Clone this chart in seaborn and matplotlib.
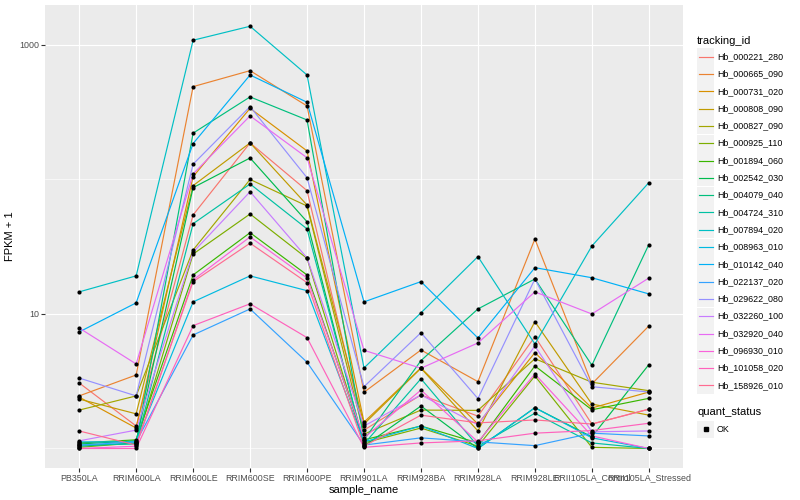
import numpy as np
import pandas as pd
import matplotlib
matplotlib.use("Agg")
import matplotlib.pyplot as plt
import seaborn as sns
from matplotlib.patches import Rectangle
from matplotlib.lines import Line2D
from matplotlib.ticker import FixedLocator, NullFormatter

plt.rcParams['font.family'] = ['Liberation Sans', 'DejaVu Sans']

# samples on the x axis
samples = ['PB350LA', 'RRIM600LA', 'RRIM600LE', 'RRIM600SE', 'RRIM600PE',
           'RRIM901LA', 'RRIM928BA', 'RRIM928LA', 'RRIM928LE',
           'RRII105LA_Control', 'RRII105LA_Stressed']

# FPKM + 1 for each gene
hb_000221_280 = [3.07, 1.47, 54.5, 187, 82.6, 1.37, 2.50, 1.74, 6.78, 1.52, 1.96]
hb_000665_090 = [2.46, 3.52, 490, 644, 352, 2.62, 5.40, 3.14, 36.1, 3.02, 8.14]
hb_000731_020 = [2.41, 1.42, 105, 338, 163, 1.57, 3.97, 1.52, 5.16, 2.00, 2.63]
hb_000808_090 = [2.33, 1.81, 90, 187, 64.6, 1.52, 3.95, 1.35, 8.77, 2.14, 1.77]
hb_000827_090 = [1.93, 2.46, 29.9, 100, 63.5, 1.28, 1.93, 1.92, 4.65, 3.11, 2.69]
hb_000925_110 = [1.02, 1.10, 27.9, 55.4, 25.9, 1.10, 1.42, 1.04, 3.46, 1.02, 1.0]
hb_001894_060 = [1.10, 1.16, 19.5, 40.2, 19.5, 1.16, 1.47, 1.10, 4.11, 1.94, 2.36]
hb_002542_030 = [1.08, 1.14, 87, 144.5, 48.5, 1.04, 2.07, 1.0, 2.01, 1.22, 4.20]
hb_004079_040 = [1.04, 1.10, 221, 411, 277, 1.16, 4.50, 10.9, 18.2, 4.16, 32.8]
hb_004724_310 = [1.06, 1.08, 46.9, 92.6, 42.9, 1.08, 3.30, 1.04, 1.83, 1.10, 1.0]
hb_007894_020 = [14.6, 19.2, 1084, 1377, 598, 3.97, 10.2, 26.7, 5.98, 32.0, 94.7]
hb_008963_010 = [1.12, 1.12, 12.3, 19.2, 14.9, 1.12, 1.47, 1.0, 2.01, 1.20, 1.0]
hb_010142_040 = [7.35, 12.1, 185, 598, 375, 12.3, 17.4, 6.63, 22.1, 18.6, 14.1]
hb_022137_020 = [1.06, 1.12, 6.98, 10.9, 4.38, 1.06, 1.20, 1.12, 1.05, 1.30, 1.24]
hb_029622_080 = [3.34, 2.46, 130, 348, 103, 2.88, 7.26, 2.35, 18.2, 2.88, 2.63]
hb_032260_100 = [1.14, 1.37, 28.8, 81.1, 26.1, 1.47, 2.50, 1.50, 5.78, 1.33, 1.35]
hb_032920_040 = [7.87, 4.25, 110, 297, 145, 5.37, 3.95, 6.09, 14.6, 10.0, 18.5]
hb_096930_010 = [1.0, 1.04, 17.9, 37.4, 18.5, 1.20, 2.72, 1.12, 3.58, 1.24, 1.0]
hb_101058_020 = [1.0, 1.0, 8.19, 11.9, 6.67, 1.02, 1.10, 1.14, 1.30, 1.36, 1.54]
hb_158926_010 = [1.35, 1.06, 17.4, 33.6, 17.1, 1.04, 1.77, 1.55, 1.63, 1.52, 1.96]

tracking_ids = ['Hb_000221_280', 'Hb_000665_090', 'Hb_000731_020', 'Hb_000808_090',
                'Hb_000827_090', 'Hb_000925_110', 'Hb_001894_060', 'Hb_002542_030',
                'Hb_004079_040', 'Hb_004724_310', 'Hb_007894_020', 'Hb_008963_010',
                'Hb_010142_040', 'Hb_022137_020', 'Hb_029622_080', 'Hb_032260_100',
                'Hb_032920_040', 'Hb_096930_010', 'Hb_101058_020', 'Hb_158926_010']
series = [hb_000221_280, hb_000665_090, hb_000731_020, hb_000808_090, hb_000827_090,
          hb_000925_110, hb_001894_060, hb_002542_030, hb_004079_040, hb_004724_310,
          hb_007894_020, hb_008963_010, hb_010142_040, hb_022137_020, hb_029622_080,
          hb_032260_100, hb_032920_040, hb_096930_010, hb_101058_020, hb_158926_010]

# ggplot default hue palette for 20 levels
colors = ['#F8766D', '#EA8331', '#D89000', '#C09B00', '#A3A500', '#7CAE00', '#39B600',
          '#00BB4E', '#00BF7D', '#00C1A3', '#00BFC4', '#00BAE0', '#00B0F6', '#35A2FF',
          '#9590FF', '#C77CFF', '#E76BF3', '#FA62DB', '#FF62BC', '#FF6C91']

rows = []
for tid, vals in zip(tracking_ids, series):
    for s, v in zip(samples, vals):
        rows.append((tid, s, v, 'OK'))
df = pd.DataFrame(rows, columns=['tracking_id', 'sample_name', 'fpkm1', 'quant_status'])

fig = plt.figure(figsize=(8, 5), dpi=100)
ax = fig.add_axes([45/800, 1-468/500, (683-45)/800, (468-5)/500])
ax.set_facecolor('#EBEBEB')
for sp in ax.spines.values():
    sp.set_visible(False)

sns.lineplot(data=df, x='sample_name', y='fpkm1', hue='tracking_id',
             palette=colors, hue_order=tracking_ids, sort=False,
             lw=0.85, legend=False, ax=ax, zorder=3)
sns.scatterplot(data=df, x='sample_name', y='fpkm1', color='black', s=9,
                linewidth=0, legend=False, ax=ax, zorder=4)

ax.set_yscale('log')
ax.set_ylim(10**-0.145, 10**3.297)
ax.set_xlim(-0.6, 10.6)
ax.yaxis.set_major_locator(FixedLocator([10, 1000]))
ax.yaxis.set_minor_locator(FixedLocator([1, 100]))
ax.yaxis.set_major_formatter(matplotlib.ticker.FixedFormatter(['10', '1000']))
ax.yaxis.set_minor_formatter(NullFormatter())
ax.set_xticks(range(len(samples)))
ax.set_xticklabels(samples)
ax.set_axisbelow(True)
ax.grid(which='major', color='white', lw=0.85)
ax.grid(which='minor', axis='y', color='white', lw=0.45)
ax.tick_params(which='major', length=2.6, width=0.8, color='#333333',
               labelsize=6.4, labelcolor='#4D4D4D', pad=1.5)
ax.tick_params(which='minor', length=0)

ax.set_xlabel('sample_name', fontsize=8, color='black', labelpad=2)
ax.set_ylabel('FPKM + 1', fontsize=8, color='black', labelpad=3)

# legends, drawn like ggplot guides
def fx(px):
    return px / 800

def fy(py):
    return 1 - py / 500

fig.text(fx(697), fy(40.5), 'tracking_id', fontsize=8, va='center', ha='left')
for i, (tid, c) in enumerate(zip(tracking_ids, colors)):
    yc = 56.7 + i * 17.3
    fig.patches.append(Rectangle((fx(697), fy(yc + 8.5)), 17/800, 17/500,
                                 transform=fig.transFigure, facecolor='#F2F2F2',
                                 edgecolor='none'))
    fig.lines.append(Line2D([fx(698.5), fx(712.5)], [fy(yc), fy(yc)],
                            transform=fig.transFigure, color=c, lw=0.85))
    fig.text(fx(717), fy(yc), tid, fontsize=6.4, va='center', ha='left')

fig.text(fx(697), fy(411.7), 'quant_status', fontsize=8, va='center', ha='left')
fig.patches.append(Rectangle((fx(697), fy(429 + 8.5)), 17/800, 17/500,
                             transform=fig.transFigure, facecolor='#F2F2F2',
                             edgecolor='none'))
fig.lines.append(Line2D([fx(705.5)], [fy(429)], transform=fig.transFigure,
                        marker='s', ms=2.3, color='black', lw=0))
fig.text(fx(717), fy(429), 'OK', fontsize=6.4, va='center', ha='left')

fig.savefig('out.png', dpi=100)
